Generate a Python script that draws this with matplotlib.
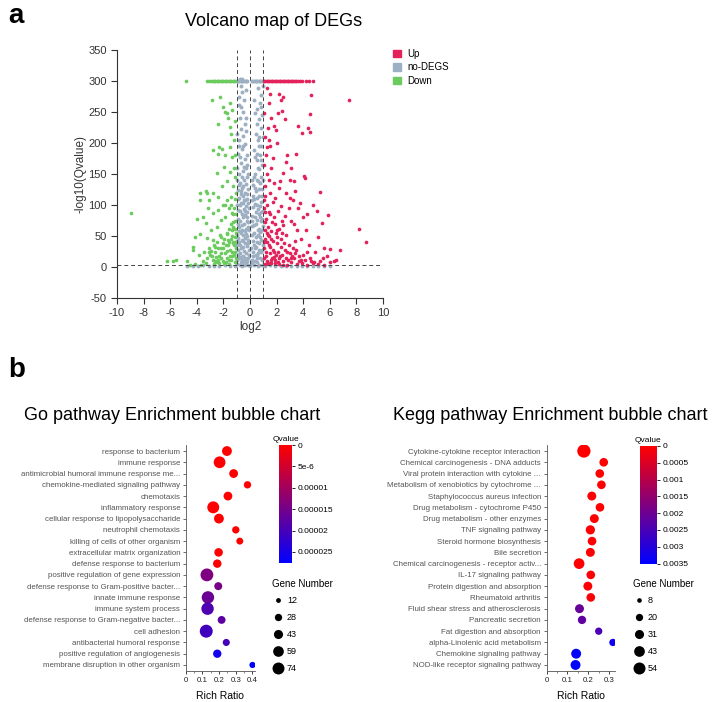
import numpy as np
import matplotlib
matplotlib.use('Agg')
import matplotlib.pyplot as plt
from matplotlib.colors import LinearSegmentedColormap, Normalize
from matplotlib.patches import Patch

plt.rcParams['font.family'] = ['Liberation Sans', 'DejaVu Sans']
plt.rcParams['axes.unicode_minus'] = False

# ---------------- volcano data: (log2 fold change, -log10 Qvalue) ----------------
down_pts = [
    (-4.84, 300), (-3.25, 300), (-3.1, 300), (-2.95, 300), (-2.8, 300), (-2.7, 300), (-2.6, 300),
    (-2.5, 300), (-2.4, 300), (-2.3, 300), (-2.2, 300), (-2.1, 300), (-2.0, 300), (-1.9, 300),
    (-1.8, 300), (-1.7, 300), (-1.6, 300), (-1.5, 300), (-1.4, 300), (-1.3, 300), (-1.2, 300), (-1.1, 300),
    (-8.95, 87), (-6.27, 9), (-5.8, 10), (-5.56, 12), (-4.76, 9), (-4.3, 33), (-3.76, 120), (-3.33, 122),
    (-3.2, 119), (-3.06, 108), (-2.88, 270), (-2.26, 275), (-2.05, 258), (-1.5, 264), (-1.38, 254),
    (-1.7, 248), (-1.9, 250), (-2.38, 230), (-1.65, 241), (-1.5, 226), (-2.3, 194), (-2.76, 188),
    (-2.38, 183), (-2.1, 190), (-1.88, 180), (-1.5, 194), (-1.33, 178), (-1.95, 162), (-2.5, 151),
    (-1.5, 154), (-1.7, 138), (-2.1, 130), (-2.76, 119), (-2.38, 113), (-3.76, 108), (-3.18, 95),
    (-2.76, 87), (-2.38, 92), (-2.05, 100), (-1.75, 108), (-1.45, 113), (-3.5, 81), (-4.0, 78),
    (-3.3, 71), (-2.93, 60), (-2.5, 65), (-2.2, 76), (-1.85, 81), (-1.38, 87), (-3.76, 54), (-4.14, 49),
    (-3.26, 46), (-2.76, 44), (-2.26, 52), (-1.75, 54), (-1.33, 60), (-4.26, 27), (-3.8, 19),
    (-3.46, 25), (-3.06, 30), (-2.7, 35), (-2.38, 30), (-2.05, 39), (-1.65, 44), (-1.25, 41),
    (-3.0, 20), (-2.8, 12), (-2.6, 25), (-2.5, 8), (-2.3, 18), (-2.2, 30), (-2.0, 10), (-1.9, 22),
    (-1.8, 35), (-1.7, 15), (-1.6, 5), (-1.5, 28), (-1.4, 12), (-1.3, 38), (-1.2, 20), (-1.1, 8),
    (-1.05, 30), (-1.15, 48), (-1.25, 65), (-1.1, 75), (-1.2, 95), (-1.1, 110), (-1.3, 130),
    (-1.1, 145), (-1.2, 160), (-2.7, 5), (-3.3, 6), (-3.7, 4), (-4.1, 5), (-4.5, 4), (-1.35, 50),
    (-1.55, 40), (-1.75, 55), (-1.95, 45), (-2.15, 48), (-2.45, 40), (-2.65, 33), (-2.9, 26),
    (-3.2, 14), (-3.5, 10), (-1.05, 120), (-1.45, 70), (-1.6, 95), (-1.85, 100), (-1.15, 25),
    (-1.35, 18), (-1.55, 12), (-1.75, 26), (-1.95, 6), (-2.15, 14), (-2.35, 6), (-2.55, 16),
    (-1.05, 55), (-1.25, 85), (-1.45, 100), (-1.1, 180), (-1.2, 205), (-1.4, 215), (-1.15, 235),
    (-1.08, 15), (-1.22, 35), (-1.38, 25), (-1.52, 18), (-1.68, 36), (-1.82, 8), (-2.02, 30),
    (-2.18, 22), (-2.42, 12), (-2.62, 10), (-2.85, 18), (-3.1, 25), (-1.12, 62), (-1.3, 72),
    (-1.6, 62), (-1.15, 40), (-1.02, 85), (-1.4, 45),
]
nodeg_pts = [
    (-1.0, 300), (-0.9, 300), (-0.8, 300), (-0.7, 300), (-0.6, 300), (-0.5, 300), (-0.4, 300),
    (-0.3, 300), (-0.2, 300), (0.15, 300), (0.25, 300), (0.35, 300), (0.45, 300), (0.55, 300),
    (0.65, 300), (0.75, 300), (0.85, 300), (0.95, 300), (-0.75, 304), (-0.6, 303),
    (-0.95, 5), (-0.7, 8), (-0.4, 4), (-0.2, 10), (-0.85, 15), (-0.55, 18), (-0.3, 22), (-0.15, 14),
    (-0.9, 28), (-0.65, 30), (-0.45, 26), (-0.25, 34), (-0.8, 40), (-0.5, 42), (-0.35, 46),
    (-0.12, 38), (-0.95, 52), (-0.7, 55), (-0.4, 58), (-0.2, 50), (-0.85, 65), (-0.6, 68),
    (-0.3, 62), (-0.15, 72), (-0.9, 78), (-0.55, 80), (-0.35, 84), (-0.75, 90), (-0.45, 94),
    (-0.2, 88), (-0.95, 100), (-0.65, 104), (-0.3, 98), (-0.8, 112), (-0.5, 115), (-0.25, 110),
    (-0.9, 124), (-0.6, 128), (-0.35, 120), (-0.15, 126), (-0.75, 136), (-0.45, 140), (-0.25, 145),
    (-0.85, 150), (-0.55, 155), (-0.3, 160), (-0.7, 168), (-0.4, 175), (-0.9, 182), (-0.6, 190),
    (-0.35, 198), (-0.8, 205), (-0.5, 212), (-0.65, 222), (-0.4, 230), (-0.75, 240), (-0.55, 250),
    (-0.85, 262), (-0.45, 270), (-0.6, 282), (-0.7, 292), (-0.3, 285), (-0.95, 35), (-0.05, 20),
    (-0.1, 60), (-0.08, 95), (-0.6, 12), (-0.75, 22), (-0.5, 33), (-0.9, 47), (-0.25, 75),
    (-0.45, 108), (-0.65, 118), (-0.95, 140), (-0.2, 165), (-0.85, 195), (-0.3, 220), (-0.65, 258),
    (-0.98, 12), (-0.78, 3), (-0.58, 6), (-0.38, 14), (-0.18, 3), (-0.88, 20), (-0.68, 16),
    (-0.48, 10), (-0.28, 6), (-0.1, 28), (-0.98, 42), (-0.72, 36), (-0.58, 44), (-0.4, 38),
    (-0.18, 44), (-0.85, 58), (-0.62, 60), (-0.5, 52), (-0.28, 54), (-0.12, 64), (-0.92, 70),
    (-0.72, 74), (-0.46, 70), (-0.2, 80), (-0.62, 86), (-0.88, 92), (-0.4, 90), (-0.12, 104),
    (-0.78, 100), (-0.52, 104), (-0.35, 108), (-0.7, 122), (-0.2, 118), (-0.92, 110), (-0.5, 130),
    (-0.3, 134), (-0.85, 132), (-0.6, 145), (-0.15, 150), (-0.95, 160), (-0.45, 162), (-0.75, 178),
    (-0.25, 180), (-0.55, 195), (-0.95, 215), (-0.3, 240), (-0.8, 275),
    (0.15, 6), (0.4, 9), (0.7, 4), (0.9, 12), (0.25, 18), (0.55, 15), (0.8, 24), (0.35, 30),
    (0.65, 28), (0.95, 36), (0.2, 42), (0.5, 40), (0.75, 48), (0.3, 55), (0.6, 52), (0.9, 60),
    (0.15, 66), (0.45, 70), (0.8, 74), (0.35, 80), (0.65, 85), (0.95, 90), (0.2, 96), (0.55, 100),
    (0.85, 105), (0.3, 110), (0.7, 114), (0.45, 122), (0.9, 126), (0.25, 132), (0.6, 138),
    (0.8, 145), (0.4, 150), (0.7, 158), (0.9, 165), (0.5, 172), (0.75, 180), (0.3, 188),
    (0.85, 195), (0.6, 205), (0.45, 215), (0.8, 225), (0.65, 238), (0.9, 245), (0.5, 255),
    (0.75, 265), (0.85, 278), (0.6, 288), (0.95, 292), (0.1, 30), (0.12, 75), (0.5, 20),
    (0.7, 62), (0.85, 88), (0.25, 115), (0.95, 140), (0.55, 182), (0.7, 210), (0.35, 248),
    (0.12, 12), (0.32, 4), (0.52, 8), (0.72, 14), (0.92, 3), (0.22, 24), (0.42, 20), (0.62, 22),
    (0.88, 28), (0.28, 36), (0.48, 32), (0.68, 38), (0.85, 44), (0.18, 52), (0.42, 48), (0.58, 60),
    (0.78, 56), (0.95, 66), (0.28, 68), (0.52, 76), (0.72, 80), (0.9, 78), (0.18, 82), (0.42, 88),
    (0.62, 94), (0.78, 98), (0.35, 102), (0.15, 108), (0.52, 112), (0.88, 115), (0.68, 126),
    (0.35, 128), (0.15, 140), (0.52, 140), (0.75, 135), (0.3, 145), (0.6, 160), (0.85, 172),
    (0.4, 178), (0.7, 195), (0.95, 210), (0.5, 230), (0.8, 258), (0.3, 270),
    (-4.7, 1), (-4.3, 2), (-3.9, 1), (-3.5, 2.5), (-3.1, 1), (-2.7, 2), (-2.3, 1), (-1.9, 2.5),
    (-1.5, 1), (-1.1, 2), (-0.6, 1.5), (0.0, 1), (0.6, 2), (1.1, 1), (1.5, 2.5), (1.9, 1),
    (2.3, 2), (2.7, 1.5), (3.1, 2), (3.5, 1), (3.9, 2), (4.3, 1), (4.7, 1.5), (5.1, 1), (5.6, 2),
    (6.0, 1),
]
up_pts = [
    (1.05, 300), (1.15, 300), (1.25, 300), (1.35, 300), (1.45, 300), (1.55, 300), (1.65, 300),
    (1.75, 300), (1.85, 300), (1.95, 300), (2.05, 300), (2.15, 300), (2.25, 300), (2.35, 300),
    (2.45, 300), (2.55, 300), (2.65, 300), (2.75, 300), (2.85, 300), (2.95, 300), (3.05, 300),
    (3.15, 300), (3.25, 300), (3.35, 300), (3.45, 300), (3.6, 300), (3.75, 300), (3.9, 300),
    (4.2, 300), (4.45, 300), (4.75, 300),
    (1.1, 5), (1.3, 10), (1.6, 6), (1.9, 12), (2.2, 5), (2.5, 9), (2.8, 4), (3.1, 8), (3.5, 5),
    (3.9, 7), (4.3, 4), (4.7, 6), (5.1, 5), (5.6, 4), (6.0, 8), (1.2, 18), (1.5, 22), (1.8, 16),
    (2.1, 25), (2.4, 20), (2.7, 15), (3.0, 22), (3.3, 14), (3.7, 18), (4.1, 12), (4.5, 15),
    (1.05, 30), (1.4, 35), (1.7, 28), (2.0, 38), (2.3, 32), (2.6, 28), (2.9, 35), (3.2, 30),
    (1.15, 45), (1.45, 50), (1.75, 42), (2.05, 48), (2.35, 45), (2.7, 52), (3.4, 42), (1.1, 60),
    (1.35, 65), (1.6, 58), (1.9, 70), (2.2, 62), (2.5, 68), (1.2, 78), (1.5, 85), (1.8, 80),
    (2.1, 90), (2.6, 82), (1.05, 95), (1.3, 100), (1.7, 105), (2.3, 98), (1.15, 115), (1.5, 120),
    (1.9, 112), (1.1, 130), (1.4, 140), (1.8, 135), (2.2, 128), (1.25, 150), (1.05, 165),
    (1.6, 160), (1.2, 180), (1.5, 195), (1.1, 210), (1.35, 225),
    (7.44, 270), (4.5, 246), (8.2, 62), (8.7, 40), (5.9, 84), (5.3, 121), (5.4, 71), (4.76, 100),
    (4.06, 147), (4.1, 143), (4.5, 218), (4.39, 225), (3.46, 182), (3.3, 138), (2.33, 270),
    (2.5, 275), (2.2, 279), (1.5, 279), (2.1, 248), (2.4, 251), (1.4, 264), (1.05, 248),
    (2.6, 238), (1.8, 227), (1.95, 221), (3.6, 227), (3.9, 216), (4.6, 278), (1.45, 205),
    (1.25, 194), (2.8, 181), (1.75, 176), (2.5, 151), (2.25, 138), (3.0, 111), (3.2, 108),
    (3.76, 103), (5.0, 91), (4.2, 60), (5.1, 49), (5.6, 31), (6.0, 29), (6.8, 28), (6.3, 10),
    (6.5, 12), (5.8, 18), (4.9, 25), (4.4, 35), (3.8, 45), (3.5, 60), (3.1, 75), (2.9, 95),
    (2.7, 120), (4.8, 8), (5.5, 15), (2.0, 200), (1.6, 240), (3.1, 160), (2.7, 170), (1.3, 288),
    (3.3, 70), (4.0, 80), (4.3, 85), (3.6, 95), (3.0, 140), (3.4, 122), (1.25, 40), (1.55, 12),
    (1.85, 6), (2.15, 14), (2.45, 4), (2.75, 24), (3.05, 14), (3.35, 22), (3.65, 10), (3.95, 20),
    (4.25, 24), (4.6, 10), (5.3, 9), (1.35, 52), (1.65, 72), (1.95, 55), (2.4, 75), (1.15, 88),
    (1.08, 15), (1.22, 25), (1.38, 6), (1.52, 32), (1.68, 14), (1.82, 24), (1.98, 20), (2.12, 8),
    (2.28, 18), (2.55, 38), (2.85, 12), (3.15, 18), (3.45, 28), (3.8, 12), (1.08, 40), (1.3, 55),
    (1.6, 45), (1.12, 72), (1.4, 88), (1.02, 108), (2.0, 60), (2.4, 55),
]

# ---------------- GO enrichment ----------------
go_terms = ['response to bacterium', 'immune response', 'antimicrobial humoral immune response me...',
            'chemokine-mediated signaling pathway', 'chemotaxis', 'inflammatory response',
            'cellular response to lipopolysaccharide', 'neutrophil chemotaxis',
            'killing of cells of other organism', 'extracellular matrix organization',
            'defense response to bacterium', 'positive regulation of gene expression',
            'defense response to Gram-positive bacter...', 'innate immune response',
            'immune system process', 'defense response to Gram-negative bacter...', 'cell adhesion',
            'antibacterial humoral response', 'positive regulation of angiogenesis',
            'membrane disruption in other organism']
go_ratio = [0.247, 0.203, 0.287, 0.37, 0.253, 0.165, 0.199, 0.30, 0.324, 0.197, 0.189,
            0.127, 0.195, 0.133, 0.131, 0.215, 0.123, 0.243, 0.189, 0.40]
go_count = [50, 72, 40, 28, 40, 74, 50, 28, 25, 38, 37, 85, 33, 80, 80, 32, 87, 26, 36, 20]
go_q = [1e-10, 2e-10, 5e-10, 1e-9, 2e-9, 3e-9, 5e-9, 8e-9, 1e-8, 3e-8, 5e-8,
        1.4e-5, 1.45e-5, 1.6e-5, 1.9e-5, 1.75e-5, 2.05e-5, 2.0e-5, 2.55e-5, 2.75e-5]
go_xticks = [0, 0.1, 0.2, 0.3, 0.4]
go_xlabels = ['0', '0.1', '0.2', '0.3', '0.4']
go_qticks = [0, 5e-6, 1e-5, 1.5e-5, 2e-5, 2.5e-5]
go_qlabels = ['0', '5e-6', '0.00001', '0.000015', '0.00002', '0.000025']
go_legend = [12, 28, 43, 59, 74]

# ---------------- KEGG enrichment ----------------
kegg_terms = ['Cytokine-cytokine receptor interaction', 'Chemical carcinogenesis - DNA adducts',
              'Viral protein interaction with cytokine ...', 'Metabolism of xenobiotics by cytochrome ...',
              'Staphylococcus aureus infection', 'Drug metabolism - cytochrome P450',
              'Drug metabolism - other enzymes', 'TNF signaling pathway',
              'Steroid hormone biosynthesis', 'Bile secretion',
              'Chemical carcinogenesis - receptor activ...', 'IL-17 signaling pathway',
              'Protein digestion and absorption', 'Rheumatoid arthritis',
              'Fluid shear stress and atherosclerosis', 'Pancreatic secretion',
              'Fat digestion and absorption', 'alpha-Linolenic acid metabolism',
              'Chemokine signaling pathway', 'NOD-like receptor signaling pathway']
kegg_ratio = [0.179, 0.274, 0.255, 0.263, 0.217, 0.256, 0.229, 0.21, 0.218, 0.21, 0.156,
              0.212, 0.198, 0.212, 0.158, 0.17, 0.25, 0.318, 0.142, 0.139]
kegg_count = [66, 28, 28, 28, 30, 28, 30, 32, 28, 30, 43, 28, 30, 28, 30, 26, 20, 20, 37, 37]
kegg_q = [1e-6, 2e-6, 5e-6, 8e-6, 1e-5, 1.5e-5, 2e-5, 2.5e-5, 3e-5, 3.5e-5, 4e-5, 4.5e-5, 5e-5, 6e-5,
          0.0021, 0.0022, 0.0025, 0.0033, 0.0034, 0.0035]
kegg_xticks = [0, 0.1, 0.2, 0.3]
kegg_xlabels = ['0', '0.1', '0.2', '0.3']
kegg_qticks = [0, 0.0005, 0.001, 0.0015, 0.002, 0.0025, 0.003, 0.0035]
kegg_qlabels = ['0', '0.0005', '0.001', '0.0015', '0.002', '0.0025', '0.003', '0.0035']
kegg_legend = [8, 20, 31, 43, 54]

up_col, grey_col, down_col = '#E3215A', '#9DAFC3', '#6CCB5F'
rb = LinearSegmentedColormap.from_list('rb', ['#FF0000', '#0000FF'])

W, H = 716, 702
fig = plt.figure(figsize=(W / 100, H / 100), dpi=100)


def box(l, t, r, b):
    return [l / W, 1 - b / H, (r - l) / W, (b - t) / H]


# ---------------- a: volcano ----------------
fig.text(8 / W, 1 - 16 / H, 'a', fontsize=20, fontweight='bold', va='center')
fig.text(274 / W, 1 - 21 / H, 'Volcano map of DEGs', fontsize=13, ha='center', va='center')

ax = fig.add_axes(box(117, 50, 383, 298))
nd = np.array(nodeg_pts)
dn = np.array(down_pts)
upa = np.array(up_pts)
ax.scatter(nd[:, 0], nd[:, 1], s=8, c=grey_col, lw=0)
ax.scatter(dn[:, 0], dn[:, 1], s=7, c=down_col, lw=0)
ax.scatter(upa[:, 0], upa[:, 1], s=7, c=up_col, lw=0)
for xv in [-1, 0, 1]:
    ax.axvline(xv, color='#444', ls=(0, (4, 3)), lw=0.7)
ax.axhline(3, color='#444', ls=(0, (4, 3)), lw=0.7)
ax.set_xlim(-10, 10)
ax.set_ylim(-50, 350)
ax.set_xticks(range(-10, 11, 2))
ax.set_yticks(range(-50, 351, 50))
for s in ['top', 'right']:
    ax.spines[s].set_visible(False)
for s in ['left', 'bottom']:
    ax.spines[s].set_color('#333')
    ax.spines[s].set_linewidth(0.8)
ax.tick_params(labelsize=8, colors='#333', length=4, width=0.8)
ax.set_xlabel('log2', fontsize=8.5, color='#333', labelpad=2)
ax.set_ylabel('-log10(Qvalue)', fontsize=8.5, color='#333', labelpad=1)

handles = [Patch(color=up_col, label='Up'), Patch(color=grey_col, label='no-DEGS'),
           Patch(color=down_col, label='Down')]
fig.legend(handles=handles, loc='upper left', bbox_to_anchor=(393 / W, 1 - 49 / H), frameon=False,
           fontsize=7, handlelength=0.8, handleheight=0.8, handletextpad=0.7, labelspacing=0.35,
           borderpad=0, borderaxespad=0)

# ---------------- b: bubble charts ----------------
fig.text(8 / W, 1 - 370 / H, 'b', fontsize=20, fontweight='bold', va='center')


def bubble(l, r, title, tx, terms, ratio, count, q, vmax, xmax, xticks, xlabels, scale, cb,
           qticks, qlabels, leg, leg_l):
    fig.text(tx / W, 1 - 416 / H, title, fontsize=13, ha='center', va='center')
    bx = fig.add_axes(box(l, 445.4, r, 670.6))
    yy = np.arange(len(terms))
    norm = Normalize(0, vmax)
    sc = bx.scatter(ratio, yy, s=np.array(count) * scale, c=q, cmap=rb, norm=norm, lw=0, zorder=3)
    bx.set_ylim(len(terms) - 0.5, -0.5)
    bx.set_xlim(0, xmax)
    bx.set_yticks(yy)
    bx.set_yticklabels(terms)
    bx.set_xticks(xticks)
    bx.set_xticklabels(xlabels)
    bx.set_xticks(np.array(xticks[:-1]) + 0.05, minor=True)
    for s in ['top', 'right']:
        bx.spines[s].set_visible(False)
    for s in ['left', 'bottom']:
        bx.spines[s].set_color('#555')
        bx.spines[s].set_linewidth(0.6)
    bx.tick_params(axis='y', labelsize=5.7, colors='#555', length=2.5, width=0.6, pad=1.5)
    bx.tick_params(axis='x', labelsize=5.7, colors='#222', length=2.5, width=0.6, pad=2)
    bx.tick_params(axis='x', which='minor', length=1.5, width=0.5, colors='#555')
    bx.set_xlabel('Rich Ratio', fontsize=7.5, labelpad=5)

    cax = fig.add_axes(box(*cb))
    cbar = fig.colorbar(sc, cax=cax)
    cbar.outline.set_visible(False)
    cax.invert_yaxis()
    cbar.set_ticks(qticks)
    cbar.set_ticklabels(qlabels)
    cax.tick_params(labelsize=6, length=2.5, width=0.6, pad=1.5)
    cax.set_title('Qvalue', fontsize=6, pad=3)

    fig.text(leg_l / W, 1 - 584 / H, 'Gene Number', fontsize=7, va='center')
    lax = fig.add_axes(box(leg_l, 592, leg_l + 55, 677))
    lax.set_xlim(0, 55)
    lax.set_ylim(len(leg) - 0.5, -0.5)
    lax.axis('off')
    ly = np.arange(len(leg))
    lax.scatter(np.full(len(leg), 6.5), ly, s=np.array(leg) * scale, c='black', lw=0, clip_on=False)
    for i, n in enumerate(leg):
        lax.text(15, i, str(n), fontsize=6.5, va='center')


bubble(185.7, 255, 'Go pathway Enrichment bubble chart', 172, go_terms, go_ratio, go_count, go_q,
       2.76e-5, 0.415, go_xticks, go_xlabels, 1.0, (279, 445, 292, 563), go_qticks, go_qlabels,
       go_legend, 272)
bubble(546.5, 615, 'Kegg pathway Enrichment bubble chart', 550, kegg_terms, kegg_ratio, kegg_count,
       kegg_q, 0.0035, 0.328, kegg_xticks, kegg_xlabels, 1.38, (640, 446, 656.7, 563.5),
       kegg_qticks, kegg_qlabels, kegg_legend, 633)

fig.savefig('out.png', dpi=100)
